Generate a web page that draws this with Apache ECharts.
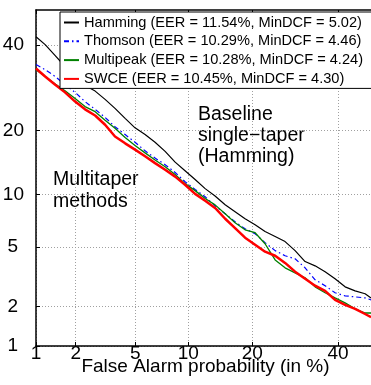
<!DOCTYPE html>
<html><head><meta charset="utf-8">
<script src="https://cdn.jsdelivr.net/npm/echarts@6/dist/echarts.min.js"></script>
<style>html,body{margin:0;padding:0;background:#fff;}#c{width:371px;height:385px;}</style>
</head><body><div id="c"></div>
<script>
// ---- data (percent) ----
const tickValues = [1, 2, 5, 10, 20, 40];
const faPct = [1.00,1.18,1.41,1.67,1.98,2.33,2.74,3.20,3.72,4.32,4.98,5.73,6.56,7.49,8.51,9.62,10.85,12.19,13.62,15.19,16.85,18.63,20.53,22.53,24.66,26.86,29.17,31.57,34.05,36.60,39.20,41.87,44.57,47.29,48.92];
const missHamming = [42.2,40.1,37.2,34.4,31.9,29.7,28.4,26.5,24.5,22.4,20.5,19.2,17.8,16.2,14.45,13.15,11.9,10.7,9.8,8.8,8.05,7.35,6.8,6.2,5.8,5.4,4.75,4.05,3.8,3.48,3.12,2.75,2.58,2.46,2.30];
const missThomson = [34.9,33.6,31.9,29.9,28.1,26.0,24.3,22.6,20.7,19.2,17.8,16.3,15.1,14.05,12.9,11.6,10.6,9.7,8.68,7.84,7.06,6.43,6.02,5.32,4.75,4.41,4.22,3.69,3.07,2.80,2.50,2.38,2.34,2.30,2.23];
const missMultipeak = [33.6,31.9,30.1,28.5,26.7,24.9,23.8,22.0,20.4,18.65,17.2,15.95,14.8,13.75,12.6,11.35,10.45,9.5,8.78,7.84,6.97,6.35,6.1,5.24,4.15,3.69,3.42,3.17,2.75,2.50,2.30,2.12,1.92,1.79,1.79];
const missSWCE = [33.9,31.9,29.9,28.1,26.0,24.3,23.0,21.1,18.85,17.6,16.5,15.4,14.3,13.3,12.3,11.2,10.05,9.25,8.45,7.35,6.5,5.7,5.17,4.68,4.41,3.97,3.48,3.12,2.80,2.58,2.23,2.05,1.92,1.76,1.67];
const seriesNames = [
  'Hamming (EER = 11.54%, MinDCF = 5.02)',
  'Thomson (EER = 10.29%, MinDCF = 4.46)',
  'Multipeak (EER = 10.28%, MinDCF = 4.24)',
  'SWCE (EER = 10.45%, MinDCF = 4.30)'
];
const xRangePct = [1, 50];
const yRangePct = [1, 49.5];
const xAxisTitle = 'False Alarm probability (in %)';

// normal deviate (probit) transform
function probit(p){
  const a=[-3.969683028665376e+01,2.209460984245205e+02,-2.759285104469687e+02,1.383577518672690e+02,-3.066479806614716e+01,2.506628277459239e+00];
  const b=[-5.447609879822406e+01,1.615858368580409e+02,-1.556989798598866e+02,6.680131188771972e+01,-1.328068155288572e+01];
  const c=[-7.784894002430293e-03,-3.223964580411365e-01,-2.400758277161838e+00,-2.549671083474877e+00,4.374664141464968e+00,2.938163982698783e+00];
  const d=[7.784695709041462e-03,3.224671290700398e-01,2.445134137142996e+00,3.754408661907416e+00];
  const pl=0.02425, ph=1-pl;
  if(p<pl){const q=Math.sqrt(-2*Math.log(p));return (((((c[0]*q+c[1])*q+c[2])*q+c[3])*q+c[4])*q+c[5])/((((d[0]*q+d[1])*q+d[2])*q+d[3])*q+1);}
  if(p<=ph){const q=p-0.5,r=q*q;return (((((a[0]*r+a[1])*r+a[2])*r+a[3])*r+a[4])*r+a[5])*q/(((((b[0]*r+b[1])*r+b[2])*r+b[3])*r+b[4])*r+1);}
  const q=Math.sqrt(-2*Math.log(1-p));return -(((((c[0]*q+c[1])*q+c[2])*q+c[3])*q+c[4])*q+c[5])/((((d[0]*q+d[1])*q+d[2])*q+d[3])*q+1);
}
const P = v => probit(v/100);
const tickPos = tickValues.map(P);
function nearestTick(val){
  let best=0, bd=1e9;
  tickPos.forEach((t,i)=>{const dd=Math.abs(t-val); if(dd<bd){bd=dd;best=i;}});
  return tickValues[best];
}
const toPts = miss => faPct.map((f,i)=>[P(f), P(miss[i])]);

const FONT = 'Liberation Sans, Arial, sans-serif';
const gridLine = {show:true, lineStyle:{color:'#a0a0a0', type:[1,2], width:1}};

const chart = echarts.init(document.getElementById('c'), null, {renderer:'canvas'});
chart.setOption({
  animation:false,
  backgroundColor:'#fff',
  grid:{left:36, top:10, right:-4, bottom:39, outerBoundsMode:'none', containLabel:false},
  legend:{
    orient:'vertical', left:60, top:12,
    padding:[3,12,2,3], itemWidth:15, itemHeight:14, itemGap:3.8,
    backgroundColor:'#fff', borderColor:'#000', borderWidth:1,
    itemStyle:{opacity:0},
    textStyle:{fontFamily:FONT, fontSize:14.6, color:'#000', lineHeight:14},
    data:seriesNames, selectedMode:false
  },
  xAxis:[{
    type:'value', position:'bottom', min:P(xRangePct[0]), max:P(xRangePct[1]),
    axisLine:{show:true, onZero:false, lineStyle:{color:'#000', width:1.5}},
    axisTick:{show:true, inside:true, length:4, customValues:tickPos, lineStyle:{color:'#000'}},
    axisLabel:{show:true, customValues:tickPos, margin:-2, fontFamily:FONT, fontSize:19, color:'#000',
      formatter:v=>String(nearestTick(v))},
    splitLine:gridLine,
    name:xAxisTitle, nameLocation:'middle', nameGap:11, nameMoveOverlap:false,
    nameTextStyle:{fontFamily:FONT, fontSize:19, color:'#000', verticalAlign:'top'}
  },{
    type:'value', position:'top', min:P(xRangePct[0]), max:P(xRangePct[1]),
    axisLine:{show:true, onZero:false, lineStyle:{color:'#000', width:1.5}},
    axisTick:{show:true, inside:true, length:4, customValues:tickPos, lineStyle:{color:'#000'}},
    axisLabel:{show:false}, splitLine:{show:false}
  }],
  yAxis:{
    type:'value', min:P(yRangePct[0]), max:P(yRangePct[1]),
    axisLine:{show:true, onZero:false, lineStyle:{color:'#000', width:1.5}},
    axisTick:{show:true, inside:true, length:4, customValues:tickPos, lineStyle:{color:'#000'}},
    axisLabel:{show:true, customValues:tickPos, margin:12, fontFamily:FONT, fontSize:19, color:'#000',
      verticalAlign:'middle', verticalAlignMinLabel:'middle', verticalAlignMaxLabel:'middle',
      formatter:v=>{const t=nearestTick(v); return t<10 ? '{s|'+t+'}' : '{d|'+t+'}';},
      rich:{s:{fontFamily:FONT, fontSize:19, color:'#000', padding:[0,6,0,0]}, d:{fontFamily:FONT, fontSize:19, color:'#000'}}},
    splitLine:gridLine
  },
  series:[
    {name:seriesNames[0], type:'line', xAxisIndex:0, symbol:'none', data:toPts(missHamming),
     lineStyle:{color:'#000', width:1.2}, itemStyle:{color:'#000'}},
    {name:seriesNames[1], type:'line', xAxisIndex:0, symbol:'none', data:toPts(missThomson),
     lineStyle:{color:'#0000ff', width:1.2, type:[5,3,1.5,3]}, itemStyle:{color:'#0000ff'}},
    {name:seriesNames[2], type:'line', xAxisIndex:0, symbol:'none', data:toPts(missMultipeak),
     lineStyle:{color:'#008000', width:1.3}, itemStyle:{color:'#008000'}},
    {name:seriesNames[3], type:'line', xAxisIndex:0, symbol:'none', data:toPts(missSWCE),
     lineStyle:{color:'#ff0000', width:2.5}, itemStyle:{color:'#ff0000'}}
  ],
  graphic:[
    {type:'text', left:198, top:104, style:{text:'Baseline\nsingle\u2212taper\n(Hamming)', fontFamily:FONT, fontSize:19.5, lineHeight:21, fill:'#000'}},
    {type:'text', left:53, top:169, style:{text:'Multitaper\nmethods', fontFamily:FONT, fontSize:19.5, lineHeight:21.5, fill:'#000'}}
  ]
});
</script></body></html>
